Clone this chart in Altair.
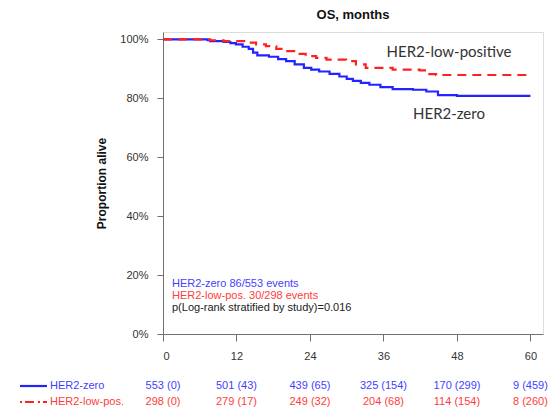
import altair as alt
import pandas as pd

# Kaplan-Meier steps
zero_months = [0, 7.3, 7.7, 9.9, 11.0, 11.9, 13.0, 14.0, 14.7, 15.4, 17.3, 18.8, 20.1, 21.5, 23.0, 24.2,
               25.5, 27.2, 28.8, 30.0, 31.0, 32.3, 33.7, 35.5, 37.5, 40.8, 43.0, 44.9, 48.0, 60.0]
zero_surv = [1.0, 0.997, 0.994, 0.991, 0.987, 0.983, 0.975, 0.968, 0.955, 0.946, 0.941, 0.933, 0.926, 0.915,
             0.903, 0.897, 0.891, 0.883, 0.874, 0.866, 0.859, 0.852, 0.846, 0.838, 0.831, 0.829, 0.823,
             0.811, 0.808, 0.808]

low_months = [0, 7.7, 9.9, 13.5, 15.2, 16.8, 18.5, 20.1, 21.7, 23.3, 25.0, 26.7, 29.9, 31.5, 33.1, 37.5,
              41.9, 43.5, 44.6, 60.0]
low_surv = [1.0, 0.997, 0.994, 0.989, 0.983, 0.977, 0.968, 0.960, 0.951, 0.943, 0.937, 0.931, 0.926, 0.915,
            0.903, 0.897, 0.895, 0.882, 0.879, 0.879]

risk_times = [0, 12, 24, 36, 48, 60]
zero_risk = ["553 (0)", "501 (43)", "439 (65)", "325 (154)", "170 (299)", "9 (459)"]
low_risk = ["298 (0)", "279 (17)", "249 (32)", "204 (68)", "114 (154)", "8 (260)"]

x_ticks = [0, 12, 24, 36, 48, 60]
y_ticks = [0, 0.2, 0.4, 0.6, 0.8, 1.0]

BLUE_LINE = "#2323ff"
RED_LINE = "#ff2020"
BLUE_TEXT = "#3f3fff"
RED_TEXT = "#ff3b3b"
FONT = "Liberation Sans"

zero_df = pd.DataFrame({"month": zero_months, "surv": zero_surv})
low_df = pd.DataFrame({"month": low_months, "surv": low_surv})
zero_risk_df = pd.DataFrame({"month": risk_times, "label": zero_risk})
low_risk_df = pd.DataFrame({"month": risk_times, "label": low_risk})

x_scale = alt.Scale(domain=[0, 62.05], nice=False, zero=False)
y_scale = alt.Scale(domain=[0, 1.025], nice=False)

x_enc = alt.X("month:Q", scale=x_scale,
              axis=alt.Axis(values=x_ticks, title=None, grid=False, tickSize=7, labelPadding=9,
                            labelFont=FONT, labelFontSize=11, labelColor="#333333",
                            domainColor="#707070", tickColor="#707070"))
y_enc = alt.Y("surv:Q", scale=y_scale,
              axis=alt.Axis(values=y_ticks, format=".0%", title="Proportion alive", grid=False,
                            tickSize=6, labelPadding=9, labelFont=FONT, labelFontSize=11,
                            labelColor="#333333", domainColor="#707070", tickColor="#707070",
                            titleFont=FONT, titleFontSize=12, titleFontWeight="bold",
                            titleColor="#111111", titlePadding=11))

zero_line = alt.Chart(zero_df).mark_line(interpolate="step-after", color=BLUE_LINE, strokeWidth=2.2).encode(
    x=x_enc, y=y_enc)
low_line = alt.Chart(low_df).mark_line(interpolate="step-after", color=RED_LINE, strokeWidth=2.2,
                                       strokeDash=[9, 6]).encode(x="month:Q", y="surv:Q")

# curve labels
lbl_low = alt.Chart(pd.DataFrame({"t": ["HER2-low-positive"]})).mark_text(
    font="Lato", fontSize=15, color="#333333", align="center", baseline="middle").encode(
    text="t:N", x=alt.value(286), y=alt.value(20))
lbl_zero = alt.Chart(pd.DataFrame({"t": ["HER2-zero"]})).mark_text(
    font="Lato", fontSize=15, color="#333333", align="center", baseline="middle").encode(
    text="t:N", x=alt.value(286), y=alt.value(82))

# event annotations
ann1 = alt.Chart(pd.DataFrame({"t": ["HER2-zero 86/553 events"]})).mark_text(
    font=FONT, fontSize=11, color=BLUE_TEXT, align="left", baseline="middle").encode(
    text="t:N", x=alt.value(9), y=alt.value(252))
ann2 = alt.Chart(pd.DataFrame({"t": ["HER2-low-pos. 30/298 events"]})).mark_text(
    font=FONT, fontSize=11, color=RED_TEXT, align="left", baseline="middle").encode(
    text="t:N", x=alt.value(9), y=alt.value(264))
ann3 = alt.Chart(pd.DataFrame({"t": ["p(Log-rank stratified by study)=0.016"]})).mark_text(
    font=FONT, fontSize=11, color="#222222", align="left", baseline="middle").encode(
    text="t:N", x=alt.value(9), y=alt.value(276))

# numbers at risk
risk_zero = alt.Chart(zero_risk_df).mark_text(font=FONT, fontSize=11, color=BLUE_TEXT,
                                              align="center", baseline="middle").encode(
    x="month:Q", y=alt.value(354), text="label:N")
risk_low = alt.Chart(low_risk_df).mark_text(font=FONT, fontSize=11, color=RED_TEXT,
                                            align="center", baseline="middle").encode(
    x="month:Q", y=alt.value(370), text="label:N")

leg_zero_line = alt.Chart(pd.DataFrame({"k": [0]})).mark_rule(color=BLUE_LINE, strokeWidth=2.2).encode(
    x=alt.value(-143), x2=alt.value(-116), y=alt.value(354))
leg_low_line = alt.Chart(pd.DataFrame({"k": [0]})).mark_rule(color=RED_LINE, strokeWidth=2.2,
                                                           strokeDash=[2, 3, 9, 4]).encode(
    x=alt.value(-143), x2=alt.value(-116), y=alt.value(370))
leg_zero_txt = alt.Chart(pd.DataFrame({"t": ["HER2-zero"]})).mark_text(
    font=FONT, fontSize=11, color=BLUE_TEXT, align="left", baseline="middle").encode(
    text="t:N", x=alt.value(-113), y=alt.value(354))
leg_low_txt = alt.Chart(pd.DataFrame({"t": ["HER2-low-pos."]})).mark_text(
    font=FONT, fontSize=11, color=RED_TEXT, align="left", baseline="middle").encode(
    text="t:N", x=alt.value(-113), y=alt.value(370))

chart = alt.layer(
    zero_line, low_line, lbl_low, lbl_zero, ann1, ann2, ann3,
    risk_zero, risk_low, leg_zero_line, leg_low_line, leg_zero_txt, leg_low_txt
).properties(
    width=380, height=302,
    title=alt.TitleParams("OS, months", font=FONT, fontSize=13, fontWeight="bold",
                          color="#111111", anchor="middle", offset=10),
    padding={"left": 155, "top": 24, "right": 6, "bottom": 77},
    autosize=alt.AutoSizeParams(type="none"),
).configure_view(stroke="#707070", strokeWidth=1).configure(background="white")

chart.save("out.html", embed_options={"renderer": "svg", "actions": False})
